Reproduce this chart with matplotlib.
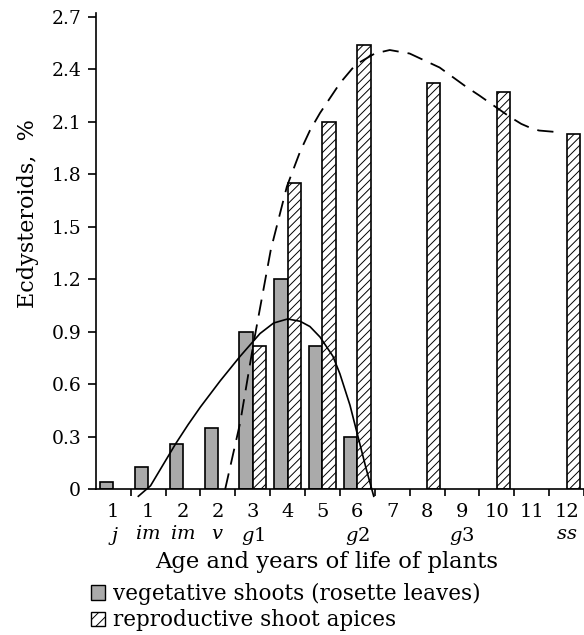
import matplotlib
matplotlib.use('Agg')
import matplotlib.pyplot as plt
from matplotlib.patches import Patch

plt.rcParams['font.family'] = 'serif'
plt.rcParams['font.serif'] = ['DejaVu Serif']
plt.rcParams['mathtext.fontset'] = 'dejavuserif'
plt.rcParams['hatch.linewidth'] = 0.7

# category axis: years of life and age stage
years = ['1', '1', '2', '2', '3', '4', '5', '6', '7', '8', '9', '10', '11', '12']
stages = ['j', 'im', 'im', 'v', 'g1', '', '', 'g2', '', '', 'g3', '', '', 'ss']

# ecdysteroid content, % (category index -> value)
veg_idx = [0, 1, 2, 3, 4, 5, 6, 7]
veg_vals = [0.04, 0.13, 0.26, 0.35, 0.90, 1.20, 0.82, 0.30]
rep_idx = [4, 5, 6, 7, 9, 11, 13]
rep_vals = [0.82, 1.75, 2.10, 2.54, 2.32, 2.27, 2.03]

# trend curves (x in category units)
veg_curve_x = [1.22, 1.57, 1.9, 2.29, 2.65, 3.0, 3.57, 4.14, 4.71, 5.1, 5.5,
               5.86, 6.14, 6.43, 6.8, 7.0, 7.29, 7.52, 7.75, 7.97]
veg_curve_y = [-0.04, 0.02, 0.13, 0.26, 0.37, 0.47, 0.62, 0.76, 0.89, 0.95, 0.973,
               0.96, 0.93, 0.87, 0.76, 0.66, 0.48, 0.30, 0.12, -0.04]
rep_curve_x = [3.71, 4.14, 4.52, 5.02, 5.48, 5.86, 6.14, 6.43, 7.0, 7.38, 7.57,
               8.0, 8.43, 9.0, 9.86, 10.62, 11.0, 11.5, 11.86, 12.2, 12.5, 12.71, 13.29]
rep_curve_y = [0.0, 0.38, 0.83, 1.37, 1.73, 1.93, 2.05, 2.15, 2.32, 2.41, 2.44,
               2.49, 2.51, 2.49, 2.41, 2.30, 2.25, 2.18, 2.13, 2.088, 2.062, 2.05, 2.04]

fig = plt.figure(figsize=(5.84, 6.35), dpi=100)
ax = fig.add_axes([0.164, 0.2295, 0.836, 0.7496])

gray = '#aaaaaa'
ax.bar([i + 0.5 for i in veg_idx], veg_vals, width=-0.38, align='edge',
       color=gray, edgecolor='black', linewidth=1.2)
ax.bar([i + 0.5 for i in rep_idx], rep_vals, width=0.38, align='edge',
       color='white', edgecolor='black', linewidth=1.2, hatch='////')

ax.plot(veg_curve_x, veg_curve_y, color='black', linewidth=1.2, clip_on=False)
ax.plot(rep_curve_x, rep_curve_y, color='black', linewidth=1.3,
        dashes=(9, 5), clip_on=False)

ax.set_xlim(0, 14)
ax.set_ylim(0, 2.72)
ax.spines['top'].set_visible(False)
ax.spines['right'].set_visible(False)
ax.spines['left'].set_linewidth(1.2)
ax.spines['bottom'].set_linewidth(1.2)

ax.set_yticks([0, 0.3, 0.6, 0.9, 1.2, 1.5, 1.8, 2.1, 2.4, 2.7])
ax.set_yticklabels(['0', '0.3', '0.6', '0.9', '1.2', '1.5', '1.8', '2.1', '2.4', '2.7'])
ax.tick_params(axis='y', direction='out', length=5.5, width=1.2, pad=5, labelsize=13.5)

ax.set_xticks(range(1, 15))
ax.set_xticklabels([])
ax.tick_params(axis='x', which='major', direction='out', length=5, width=1.2)

labels = []
for y, s in zip(years, stages):
    if s:
        labels.append(y + '\n' + r'$\mathit{' + s + '}$')
    else:
        labels.append(y)
ax.set_xticks([i + 0.5 for i in range(14)], labels, minor=True)
ax.tick_params(axis='x', which='minor', length=0, pad=10, labelsize=14)
for t in ax.get_xticklabels(minor=True):
    t.set_verticalalignment('top')
    t.set_linespacing(1.25)

fig.text(0.559, 0.115, 'Age and years of life of plants', ha='center', va='center', fontsize=16.3)
fig.text(0.048, 0.663, 'Ecdysteroids,  %', rotation=90, ha='center', va='center', fontsize=16)

handles = [Patch(facecolor=gray, edgecolor='black', linewidth=1.0),
           Patch(facecolor='white', edgecolor='black', linewidth=1.0, hatch='///')]
fig.legend(handles, ['vegetative shoots (rosette leaves)', 'reproductive shoot apices'],
           loc='upper left', bbox_to_anchor=(0.155, 0.082), frameon=False,
           fontsize=15.5, handlelength=0.65, handleheight=0.65, handletextpad=0.4,
           labelspacing=0.2, borderaxespad=0, borderpad=0)

fig.savefig('out.png', dpi=100)
